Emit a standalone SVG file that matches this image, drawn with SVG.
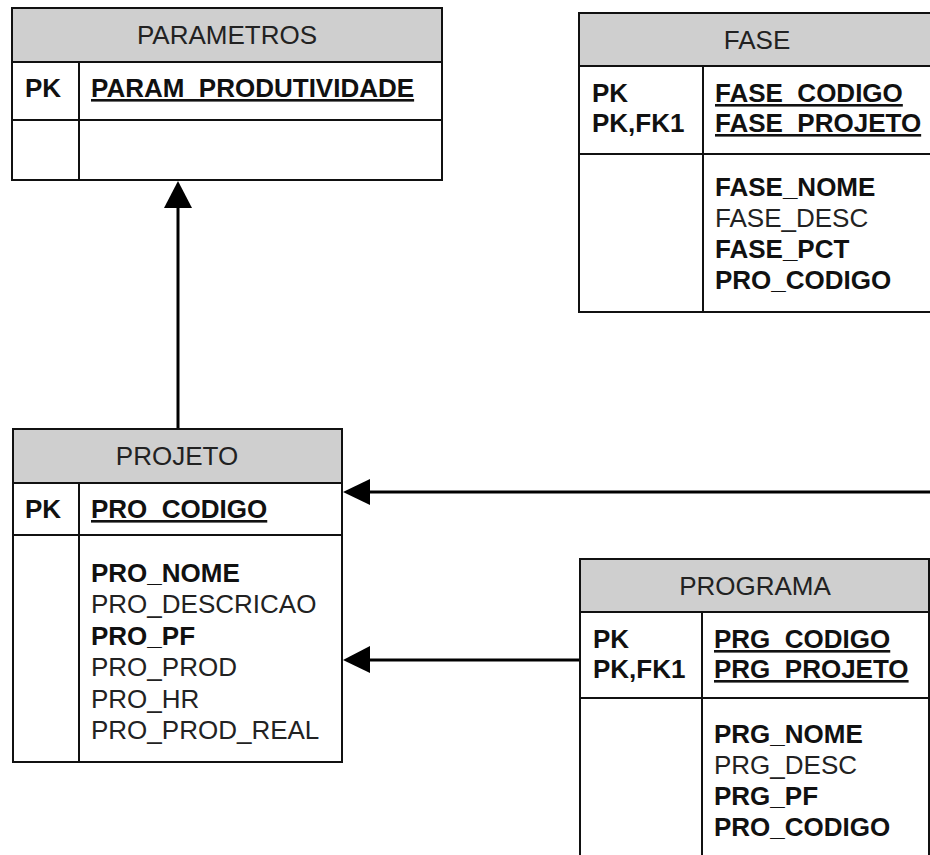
<svg xmlns="http://www.w3.org/2000/svg" width="930" height="855" viewBox="0 0 930 855">
<style>
text{font-family:"Liberation Sans",Arial,sans-serif;font-size:26px;fill:#111}
.h{fill:#cfcfcf;stroke:#111;stroke-width:2}
.b{fill:#fff;stroke:#111;stroke-width:2}
.ln{stroke:#111;stroke-width:2;fill:none}
.t{text-anchor:middle;fill:#222}
.k{font-weight:bold}
.u{font-weight:bold;text-decoration:underline}
.r{fill:#222}
.c{stroke:#000;stroke-width:3;fill:none}
.a{fill:#000}
</style>
<rect width="930" height="855" fill="#fff"/>
<g id="connectors">
<line class="c" x1="178" y1="206" x2="178" y2="429"/>
<polygon class="a" points="178,181 164,208 192,208"/>
<line class="c" x1="932" y1="492" x2="368" y2="492"/>
<polygon class="a" points="343,492 370,479 370,505"/>
<line class="c" x1="580" y1="660" x2="368" y2="660"/>
<polygon class="a" points="343,660 370,646 370,673"/>
</g>
<g id="parametros">
<rect class="b" x="12" y="8" width="430" height="172"/>
<rect class="h" x="12" y="8" width="430" height="54"/>
<line class="ln" x1="12" y1="120" x2="442" y2="120"/>
<line class="ln" x1="79" y1="62" x2="79" y2="180"/>
<text class="t" x="227" y="44">PARAMETROS</text>
<text class="k" x="25" y="97">PK</text>
<text class="u" x="91" y="97">PARAM_PRODUTIVIDADE</text>
</g>
<g id="fase">
<rect class="b" x="579" y="13" width="356" height="299"/>
<rect class="h" x="579" y="13" width="356" height="53"/>
<line class="ln" x1="579" y1="154" x2="935" y2="154"/>
<line class="ln" x1="703" y1="66" x2="703" y2="312"/>
<text class="t" x="757" y="49">FASE</text>
<text class="k" x="592" y="102">PK</text>
<text class="k" x="592" y="132">PK,FK1</text>
<text class="u" x="715" y="102">FASE_CODIGO</text>
<text class="u" x="715" y="132">FASE_PROJETO</text>
<text class="k" x="715" y="196">FASE_NOME</text>
<text class="r" x="715" y="227">FASE_DESC</text>
<text class="k" x="715" y="258">FASE_PCT</text>
<text class="k" x="715" y="289">PRO_CODIGO</text>
</g>
<g id="projeto">
<rect class="b" x="13" y="429" width="329" height="333"/>
<rect class="h" x="13" y="429" width="329" height="54"/>
<line class="ln" x1="13" y1="535" x2="342" y2="535"/>
<line class="ln" x1="79" y1="483" x2="79" y2="762"/>
<text class="t" x="177" y="465">PROJETO</text>
<text class="k" x="25" y="518">PK</text>
<text class="u" x="91" y="518">PRO_CODIGO</text>
<text class="k" x="91" y="582">PRO_NOME</text>
<text class="r" x="91" y="613">PRO_DESCRICAO</text>
<text class="k" x="91" y="645">PRO_PF</text>
<text class="r" x="91" y="676">PRO_PROD</text>
<text class="r" x="91" y="708">PRO_HR</text>
<text class="r" x="91" y="739">PRO_PROD_REAL</text>
</g>
<g id="programa">
<rect class="b" x="580" y="559" width="349" height="310"/>
<rect class="h" x="580" y="559" width="349" height="53"/>
<line class="ln" x1="580" y1="698" x2="929" y2="698"/>
<line class="ln" x1="702" y1="612" x2="702" y2="869"/>
<text class="t" x="755" y="595">PROGRAMA</text>
<text class="k" x="593" y="648">PK</text>
<text class="k" x="593" y="678">PK,FK1</text>
<text class="u" x="714" y="648">PRG_CODIGO</text>
<text class="u" x="714" y="678">PRG_PROJETO</text>
<text class="k" x="714" y="743">PRG_NOME</text>
<text class="r" x="714" y="774">PRG_DESC</text>
<text class="k" x="714" y="805">PRG_PF</text>
<text class="k" x="714" y="836">PRO_CODIGO</text>
</g>
</svg>
